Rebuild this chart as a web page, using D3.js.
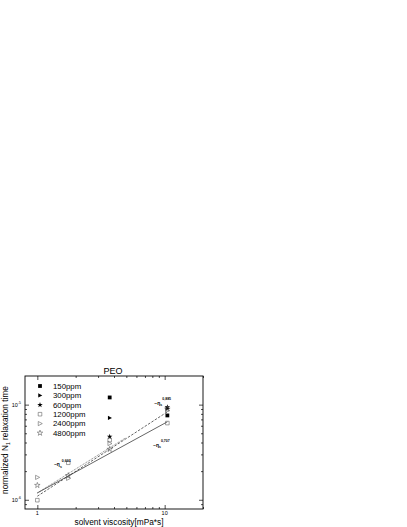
<!DOCTYPE html>
<html>
<head>
<meta charset="utf-8">
<script src="https://cdn.jsdelivr.net/npm/d3@7"></script>
<style>
  html, body { margin: 0; padding: 0; background: #fff; }
  svg { display: block; font-family: "Liberation Sans", Arial, sans-serif; }
</style>
</head>
<body>
<svg id="chart" width="407" height="527"></svg>
<script>
// ---- data ----
const seriesNames = ["150ppm", "300ppm", "600ppm", "1200ppm", "2400ppm", "4800ppm"];
const viscosity150 = [3.7, 10.5];
const time150 = [1.19e-5, 7.7e-6];
const viscosity300 = [3.7, 10.5];
const time300 = [7.25e-6, 9.1e-6];
const viscosity600 = [3.7, 10.5];
const time600 = [4.6e-6, 9.4e-6];
const viscosity1200 = [1, 1.75, 3.7, 10.5];
const time1200 = [9.9e-7, 2.45e-6, 4.25e-6, 6.4e-6];
const viscosity2400 = [1, 1.75, 3.7, 10.5];
const time2400 = [1.72e-6, 1.68e-6, 3.9e-6, 8.7e-6];
const viscosity4800 = [1, 1.75, 3.7, 10.5];
const time4800 = [1.42e-6, 1.8e-6, 3.4e-6, 9.0e-6];
// fit lines (end points)
const solidFitX = [1, 10.5];
const solidFitY = [1.18e-6, 6.6e-6];
const dashedFitX = [1, 10.5];
const dashedFitY = [1.09e-6, 8.4e-6];
const dottedFitX = [1, 4.9];
const dottedFitY = [1.18e-6, 4.45e-6];
const exponentLabels = ["0,885", "0,707", "0,603"];
const xTickValues = [1, 10];
const xTickLabels = ["1", "10"];
const yTickValues = [1e-6, 1e-5];
const yTickExponents = ["-6", "-5"];

// ---- layout ----
const svg = d3.select("#chart");
const L = 25, R = 203, T = 376, B = 509;
const x = d3.scaleLog().domain([0.8, 20]).range([L, R]);
const y = d3.scaleLog().domain([8e-7, 2e-5]).range([B, T]);

svg.append("rect").attr("width", 407).attr("height", 527).attr("fill", "#fff");

// ---- axes with inward ticks on all four sides ----
function ticks(axisGen, transform, major, minor) {
  const g = svg.append("g").attr("transform", transform);
  g.call(axisGen(major).tickSizeInner(-4).tickSizeOuter(0).tickFormat(""));
  const g2 = svg.append("g").attr("transform", transform);
  g2.call(axisGen(minor).tickSizeInner(-2).tickSizeOuter(0).tickFormat(""));
  [g, g2].forEach(gg => {
    gg.select(".domain").remove();
    gg.selectAll("line").attr("stroke", "#000").attr("stroke-width", 0.7);
  });
}
const minorX = [2, 3, 4, 5, 6, 7, 8, 9, 20];
const minorY = [9e-7, 2e-6, 3e-6, 4e-6, 5e-6, 6e-6, 7e-6, 8e-6, 9e-6];
ticks(s => d3.axisBottom(x).tickValues(s), `translate(0,${B})`, xTickValues, minorX);
ticks(s => d3.axisTop(x).tickValues(s), `translate(0,${T})`, xTickValues, minorX);
ticks(s => d3.axisLeft(y).tickValues(s), `translate(${L},0)`, yTickValues, minorY);
ticks(s => d3.axisRight(y).tickValues(s), `translate(${R},0)`, yTickValues, minorY);

svg.append("rect").attr("x", L).attr("y", T).attr("width", R - L).attr("height", B - T)
  .attr("fill", "none").attr("stroke", "#000").attr("stroke-width", 0.9);

// tick labels
svg.selectAll(".xtl").data(xTickValues).enter().append("text")
  .attr("x", d => x(d)).attr("y", B + 6.2).attr("text-anchor", "middle")
  .attr("font-size", 5.5).text((d, i) => xTickLabels[i]);
const ytl = svg.selectAll(".ytl").data(yTickValues).enter().append("text")
  .attr("x", L - 4).attr("y", d => y(d) + 2).attr("text-anchor", "end").attr("font-size", 5.5);
ytl.append("tspan").text("10");
ytl.append("tspan").attr("dy", -2.5).attr("font-size", 3.5).text((d, i) => yTickExponents[i]);

// titles
svg.append("text").attr("x", 113).attr("y", 374).attr("text-anchor", "middle")
  .attr("font-size", 9).text("PEO");
svg.append("text").attr("x", 119).attr("y", 525).attr("text-anchor", "middle")
  .attr("font-size", 8.3).text("solvent viscosity[mPa*s]");
const yl = svg.append("text").attr("transform", "translate(8,440) rotate(-90)")
  .attr("text-anchor", "middle").attr("font-size", 8.3);
yl.append("tspan").text("normalized N");
yl.append("tspan").attr("dy", 2).attr("font-size", 5).text("1");
yl.append("tspan").attr("dy", -2).text(" relaxation time");

// ---- fit lines ----
const line = d3.line().x(d => x(d[0])).y(d => y(d[1]));
const fits = [
  { xs: solidFitX, ys: solidFitY, dash: null, c: "#222" },
  { xs: dashedFitX, ys: dashedFitY, dash: "2.5,1.5", c: "#222" },
  { xs: dottedFitX, ys: dottedFitY, dash: "0.9,0.9", c: "#444" }
];
fits.forEach(f => {
  svg.append("path").datum(f.xs.map((v, i) => [v, f.ys[i]]))
    .attr("d", line).attr("fill", "none").attr("stroke", f.c)
    .attr("stroke-width", 0.7).attr("stroke-dasharray", f.dash);
});

// ---- symbols ----
const rightTri = (s) => `M${-s*0.42},${-s*0.5}L${s*0.55},0L${-s*0.42},${s*0.5}Z`;
function symbolPath(kind, size) {
  if (kind === "square") return d3.symbol(d3.symbolSquare, size * size)();
  if (kind === "tri") return rightTri(size);
  return d3.symbol(d3.symbolStar, size * size * 0.45)();
}
const styles = [
  { kind: "square", filled: true, size: 3.8 },
  { kind: "tri", filled: true, size: 4.2 },
  { kind: "star", filled: true, size: 4.6 },
  { kind: "square", filled: false, size: 3.6 },
  { kind: "tri", filled: false, size: 4.2 },
  { kind: "star", filled: false, size: 4.6 }
];
const series = [
  [viscosity150, time150], [viscosity300, time300], [viscosity600, time600],
  [viscosity1200, time1200], [viscosity2400, time2400], [viscosity4800, time4800]
];
function drawSym(g, st) {
  g.attr("d", symbolPath(st.kind, st.size))
   .attr("fill", st.filled ? "#000" : "none")
   .attr("stroke", st.filled ? "none" : "#555")
   .attr("stroke-width", 0.55);
}
series.forEach((s, i) => {
  const pts = s[0].map((v, j) => [v, s[1][j]]);
  svg.selectAll(null).data(pts).enter().append("path")
    .attr("transform", d => `translate(${x(d[0])},${y(d[1])})`)
    .call(g => drawSym(g, styles[i]));
});

// ---- legend ----
seriesNames.forEach((name, i) => {
  const yy = 386 + i * 9.4;
  svg.append("path").attr("transform", `translate(40,${yy})`).call(g => drawSym(g, styles[i]));
  svg.append("text").attr("x", 53).attr("y", yy + 2.8).attr("font-size", 7.8).text(name);
});

// ---- exponent annotations ----
function annot(px, py, exp) {
  const t = svg.append("text").attr("x", px).attr("y", py).attr("font-size", 5)
    .attr("font-weight", "bold").attr("fill", "#000");
  t.append("tspan").text("~η");
  t.append("tspan").attr("dy", 1.5).attr("font-size", 3.5).text("s");
  t.append("tspan").attr("dy", -6).attr("font-size", 3.5).text(exp);
}
annot(x(8.3), y(1.0e-5), exponentLabels[0]);
annot(x(8.1), y(3.6e-6), exponentLabels[1]);
annot(x(1.35), y(2.25e-6), exponentLabels[2]);
</script>
</body>
</html>
